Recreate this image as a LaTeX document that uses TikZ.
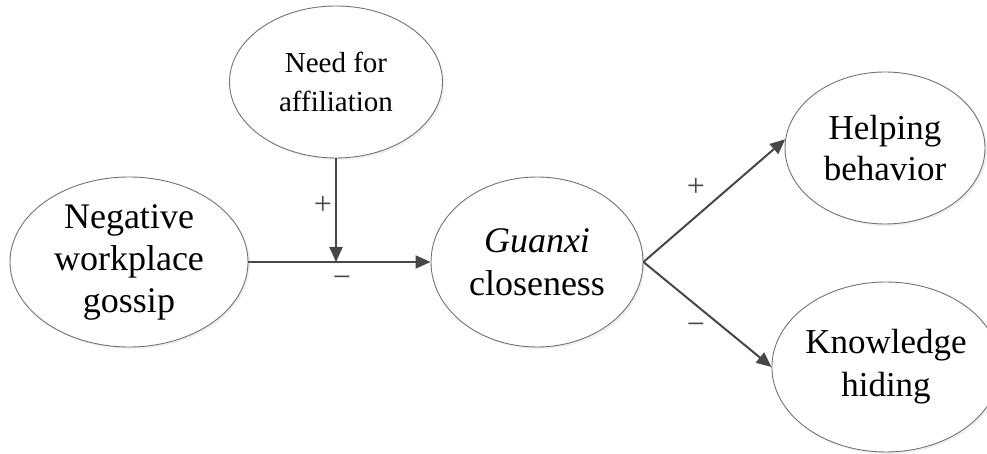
\documentclass[tikz,border=0pt]{standalone}
\usepackage{fontspec}
\setmainfont{Liberation Serif}
\usetikzlibrary{shapes.geometric,arrows.meta,shadows}
\tikzset{var/.style={ellipse,draw=black!55,line width=0.9pt,fill=white,inner sep=0pt,align=center,font=\fontsize{36}{42}\selectfont,drop shadow={opacity=0.12,shadow xshift=2pt,shadow yshift=-2pt}},
  effect/.style={-{Triangle[length=15pt,width=13pt]},draw=black!72,line width=2pt},
  sign/.style={font=\fontsize{32}{32}\selectfont,text=black!72,inner sep=0pt}}

\begin{document}
\begin{tikzpicture}[x=1pt,y=1pt]
              \useasboundingbox (0,0) rectangle (987,454);

              \node[var,minimum width=238pt,minimum height=170pt] (nwg) at (129,192) {Negative\\workplace\\gossip};
              \node[var,minimum width=213pt,minimum height=152pt,font=\fontsize{29}{39}\selectfont] (nfa) at (336,372) {Need for\\affiliation};
              \node[var,minimum width=212pt,minimum height=170pt,font=\fontsize{36}{43}\selectfont] (gc) at (537,192) {\textit{Guanxi}\\closeness};

              \node[var,minimum width=200pt,minimum height=152pt,font=\fontsize{35}{41}\selectfont] (hb) at (885,306) {Helping\\behavior};
              \node[var,minimum width=202pt,minimum height=170pt,font=\fontsize{35}{43}\selectfont] (kh) at (886,87) {Knowledge\\hiding};

              \coordinate (m) at (nfa.south |- nwg.east);

              \draw[effect] (nwg) -- (gc);
              \draw[effect] (nfa) -- (m);
              \draw[effect] (gc.east) -- (hb.175);
              \draw[effect] (gc.east) -- (kh.west);

              \node[sign] (pnfa) at (323,249) {+};
              \node[sign] (mnwg) at (342,172) {−};
              \node[sign] (phb) at (696,267) {+};
              \node[sign] (mkh) at (696,125) {−};
            \end{tikzpicture}
\end{document}
